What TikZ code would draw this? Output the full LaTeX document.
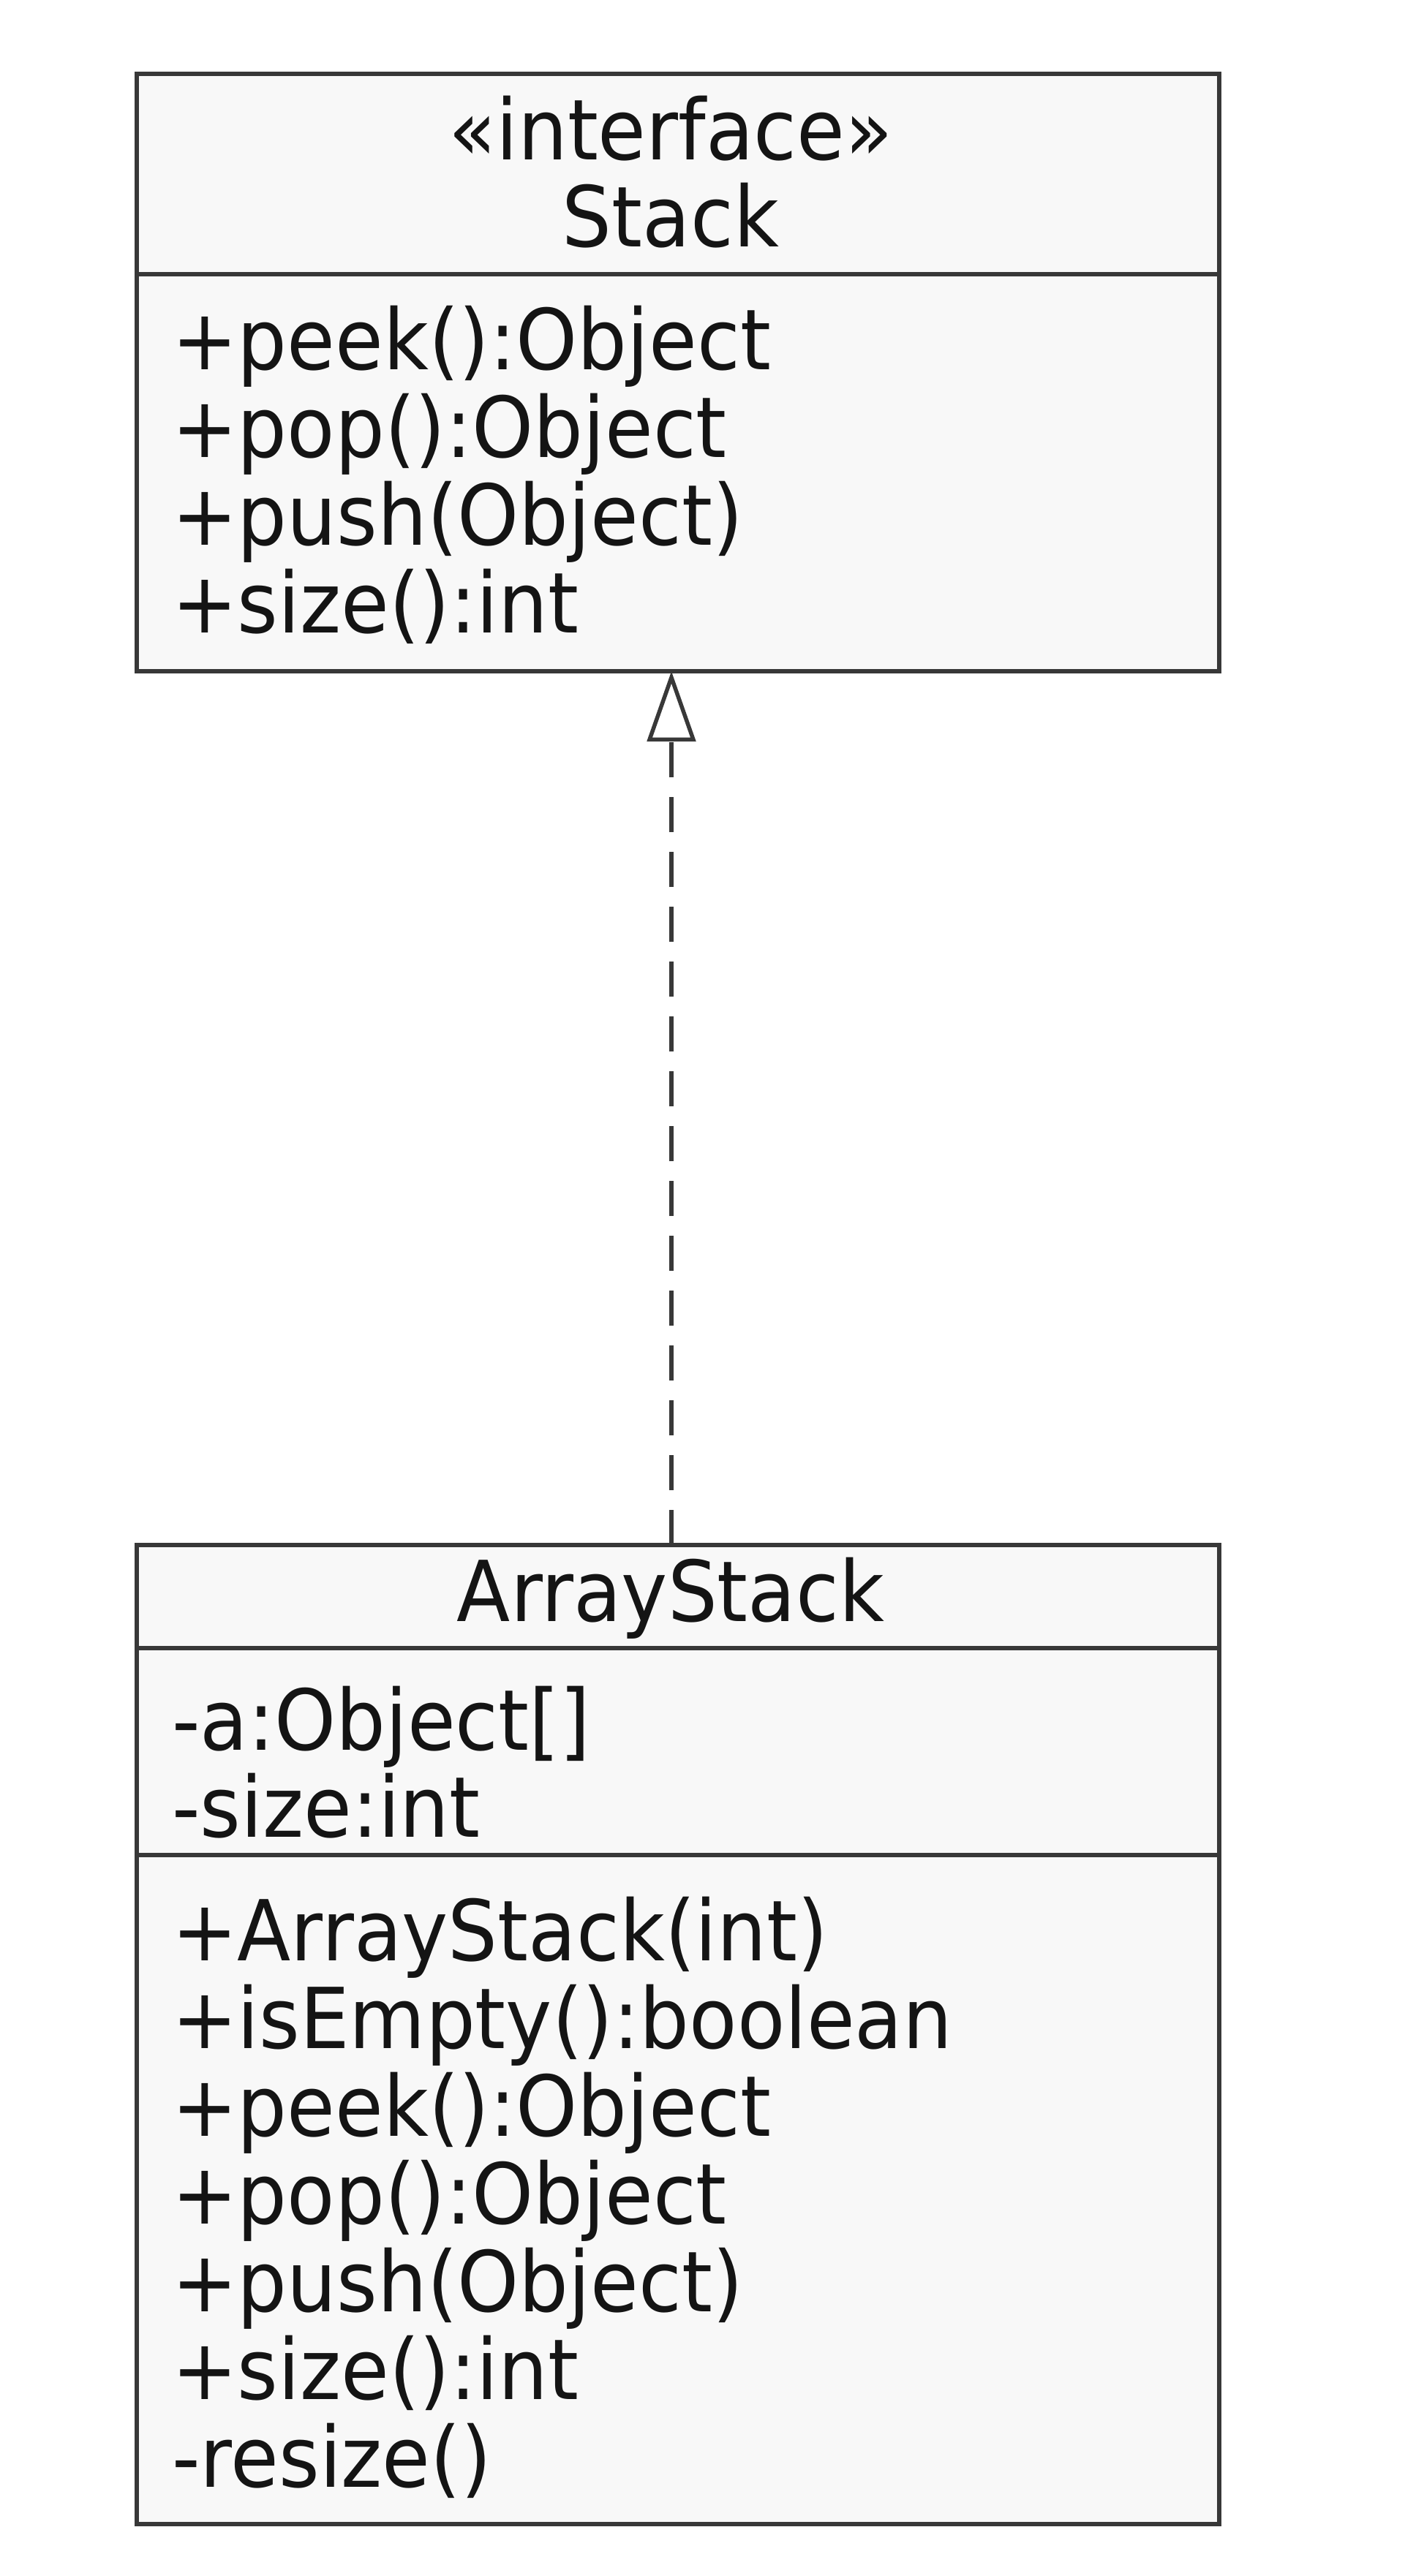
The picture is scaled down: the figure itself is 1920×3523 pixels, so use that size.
\documentclass[tikz,border=0pt]{standalone}
\usepackage{fontspec}
\setmainfont{DejaVu Sans}[FakeStretch=0.93]
\usetikzlibrary{arrows.meta}
\definecolor{boxline}{HTML}{383838}
\definecolor{boxfill}{HTML}{F8F8F8}
\definecolor{txt}{HTML}{141414}
\tikzset{
  umlbox/.style={draw=boxline, line width=6pt, fill=boxfill, rectangle, inner sep=0pt, outer sep=0pt, anchor=north west},
  divider/.style={draw=boxline, line width=6pt},
  member/.style={anchor=base west, inner sep=0pt, text=txt, font=\fontsize{115}{120}\selectfont},
  title/.style={anchor=base, inner sep=0pt, text=txt, font=\fontsize{115}{120}\selectfont},
  realize/.style={draw=boxline, line width=6pt, dash pattern=on 48pt off 27pt,
    -{Triangle[open, fill=white, length=96pt, width=66pt, line width=5.5pt]}}
}
\begin{document}
\begin{tikzpicture}[x=1pt, y=-1pt]
\useasboundingbox (0,0) rectangle (1920,3523);
% Stack interface box
\node[umlbox, minimum width=1480pt, minimum height=817pt] (stack) at (187,101) {};
\draw[divider] (stack.west |- 0,375) -- (stack.east |- 0,375);
\node[title] (stackstereo) at (917,218) {«interface»};
\node[title] (stackname) at (917,337) {Stack};
\node[member] (s1) at (235,505) {+peek():Object};
\node[member] (s2) at (235,625) {+pop():Object};
\node[member] (s3) at (235,745) {+push(Object)};
\node[member] (s4) at (235,865) {+size():int};
% ArrayStack class box
\node[umlbox, minimum width=1480pt, minimum height=1339pt] (arraystack) at (187,2113) {};
\draw[divider] (arraystack.west |- 0,2254) -- (arraystack.east |- 0,2254);
\draw[divider] (arraystack.west |- 0,2537) -- (arraystack.east |- 0,2537);
\node[title] (asname) at (917,2217) {ArrayStack};
\node[member] (a1) at (235,2393) {-a:Object[]};
\node[member] (a2) at (235,2512) {-size:int};
\node[member] (m1) at (235,2681) {+ArrayStack(int)};
\node[member] (m2) at (235,2801) {+isEmpty():boolean};
\node[member] (m3) at (235,2921) {+peek():Object};
\node[member] (m4) at (235,3041) {+pop():Object};
\node[member] (m5) at (235,3161) {+push(Object)};
\node[member] (m6) at (235,3281) {+size():int};
\node[member] (m7) at (235,3401) {-resize()};
% realization
\coordinate (ax) at (918,0);
\draw[realize] (ax |- arraystack.north) -- (ax |- stack.south);
\end{tikzpicture}
\end{document}
